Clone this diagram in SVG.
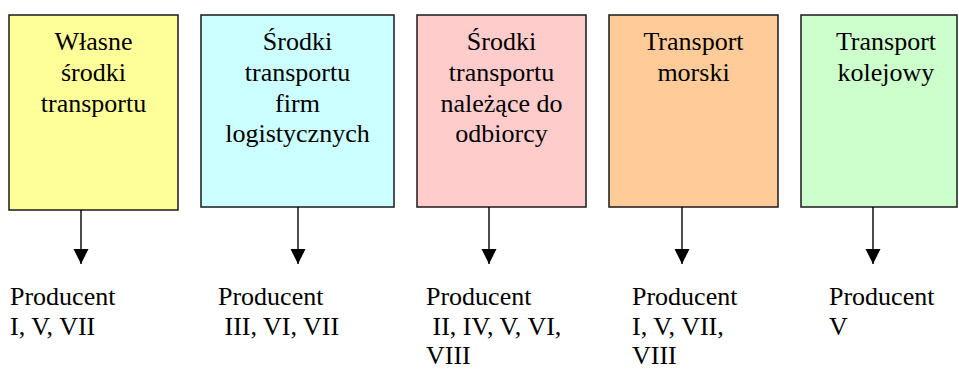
<svg xmlns="http://www.w3.org/2000/svg" width="959" height="370" viewBox="0 0 959 370">
<style>
.box{stroke:#1a1a1a;stroke-width:1.5}
.t{font-family:"Liberation Serif","Times New Roman",serif;font-size:26px;fill:#000}
.c{text-anchor:middle}
.con{stroke:#000;stroke-width:1.4;fill:none}
</style>
<defs>
<marker id="ah" markerUnits="userSpaceOnUse" markerWidth="16" markerHeight="16" viewBox="0 0 16 16" refX="15" refY="8" orient="auto">
<path d="M0,0.5 L15,8 L0,15.5 Z" fill="#000"/>
</marker>
</defs>
<rect width="959" height="370" fill="#fff"/>
<g id="node1">
<rect class="box" x="9" y="15" width="169" height="195" fill="#FFFF99"/>
<text class="t c" x="93.5" y="50">Własne</text>
<text class="t c" x="93.5" y="81">środki</text>
<text class="t c" x="93.5" y="111.5">transportu</text>
</g>
<g id="node2">
<rect class="box" x="201" y="15" width="193" height="192" fill="#CCFFFF"/>
<text class="t c" x="297.5" y="50">Środki</text>
<text class="t c" x="297.5" y="81">transportu</text>
<text class="t c" x="297.5" y="111.5">firm</text>
<text class="t c" x="297.5" y="142">logistycznych</text>
</g>
<g id="node3">
<rect class="box" x="417" y="15" width="169" height="192" fill="#FFCCCC"/>
<text class="t c" x="501.5" y="50">Środki</text>
<text class="t c" x="501.5" y="81">transportu</text>
<text class="t c" x="501.5" y="111.5">należące do</text>
<text class="t c" x="501.5" y="142">odbiorcy</text>
</g>
<g id="node4">
<rect class="box" x="609" y="15" width="169" height="192" fill="#FFCC99"/>
<text class="t c" x="693.5" y="50">Transport</text>
<text class="t c" x="693.5" y="81">morski</text>
</g>
<g id="node5">
<rect class="box" x="801" y="15" width="156" height="192" fill="#CCFFCC"/>
<text class="t c" x="886" y="50">Transport</text>
<text class="t c" x="886" y="81">kolejowy</text>
</g>
<g id="connectors">
<line class="con" x1="81" y1="210" x2="81" y2="264" marker-end="url(#ah)"/>
<line class="con" x1="298" y1="207" x2="298" y2="264" marker-end="url(#ah)"/>
<line class="con" x1="489" y1="207" x2="489" y2="264" marker-end="url(#ah)"/>
<line class="con" x1="682" y1="207" x2="682" y2="264" marker-end="url(#ah)"/>
<line class="con" x1="873" y1="207" x2="873" y2="264" marker-end="url(#ah)"/>
</g>
<g id="labels">
<text class="t" x="10" y="305">Producent</text>
<text class="t" x="10" y="335">I, V, VII</text>
<text class="t" x="218" y="305">Producent</text>
<text class="t" x="218" y="335" xml:space="preserve"> III, VI, VII</text>
<text class="t" x="426" y="305">Producent</text>
<text class="t" x="426" y="335" xml:space="preserve"> II, IV, V, VI,</text>
<text class="t" x="426" y="364">VIII</text>
<text class="t" x="632" y="305">Producent</text>
<text class="t" x="632" y="335">I, V, VII,</text>
<text class="t" x="632" y="364">VIII</text>
<text class="t" x="829" y="305">Producent</text>
<text class="t" x="829" y="335">V</text>
</g>
</svg>
